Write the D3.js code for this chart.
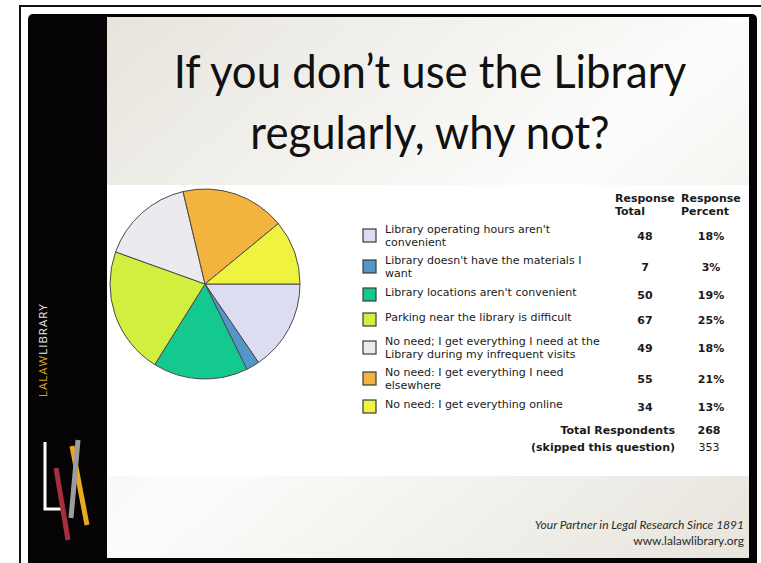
<!DOCTYPE html>
<html><head><meta charset="utf-8">
<script src="https://cdn.jsdelivr.net/npm/d3@7"></script>
<style>
html,body{margin:0;padding:0;background:#fff;}
svg{display:block;}
</style></head>
<body>
<svg id="c" width="761" height="563"></svg>
<script>
// ---- data ----
const titleLines = ["If you don\u2019t use the Library", "regularly, why not?"];
const categories = [
  "Library operating hours aren't\nconvenient",
  "Library doesn't have the materials I\nwant",
  "Library locations aren't convenient",
  "Parking near the library is difficult",
  "No need; I get everything I need at the\nLibrary during my infrequent visits",
  "No need: I get everything I need\nelsewhere",
  "No need: I get everything online"
];
const responseTotals = [48, 7, 50, 67, 49, 55, 34];
const responsePercents = ["18%", "3%", "19%", "25%", "18%", "21%", "13%"];
const sliceColors = ["#dcdcf2", "#5596c8", "#14c990", "#d2ee3e", "#ebebef", "#f3b33f", "#eff23f"];
const headerCols = [["Response", "Total"], ["Response", "Percent"]];
const summaryLabels = ["Total Respondents", "(skipped this question)"];
const summaryValues = [268, 353];
const brandParts = ["LALAW", "LIBRARY"];
const footerLines = ["Your Partner in Legal Research Since 1891", "www.lalawlibrary.org"];

// ---- drawing ----
const svg = d3.select("#c");
const defs = svg.append("defs");
const g1 = defs.append("linearGradient").attr("id", "bg")
  .attr("x1", "0").attr("y1", "0").attr("x2", "1").attr("y2", "1");
g1.append("stop").attr("offset", "0").attr("stop-color", "#e7e4dc");
g1.append("stop").attr("offset", "0.5").attr("stop-color", "#fcfcfb");
g1.append("stop").attr("offset", "1").attr("stop-color", "#e7e4dc");

// outer thin frame lines
svg.append("path").attr("d", "M20,563 L20,6 L761,6").attr("fill", "none")
  .attr("stroke", "#111").attr("stroke-width", 2);
// black slide
svg.append("rect").attr("x", 28).attr("y", 14).attr("width", 729).attr("height", 560)
  .attr("rx", 5).attr("fill", "#050303");
// content area
svg.append("rect").attr("x", 107).attr("y", 17).attr("width", 642).attr("height", 541)
  .attr("fill", "url(#bg)");
// white chart area
svg.append("rect").attr("x", 107).attr("y", 185).attr("width", 642).attr("height", 291)
  .attr("fill", "#ffffff");

// title
svg.append("g").attr("transform", "translate(430,0) scale(0.95,1)")
  .selectAll("text").data(titleLines).join("text")
  .attr("x", 0).attr("y", (d, i) => 88 + i * 61)
  .attr("text-anchor", "middle")
  .attr("font-family", "Lato, 'Open Sans', sans-serif")
  .attr("font-size", 46).attr("fill", "#111")
  .text(d => d);

// pie
const cx = 205, cy = 284, R = 95;
const pie = d3.pie().sort(null).value(d => d)
  .startAngle(Math.PI / 2).endAngle(Math.PI / 2 + 2 * Math.PI);
const arc = d3.arc().innerRadius(0).outerRadius(R);
svg.append("g").attr("transform", `translate(${cx},${cy})`)
  .selectAll("path").data(pie(responseTotals)).join("path")
  .attr("d", arc)
  .attr("fill", (d, i) => sliceColors[i])
  .attr("stroke", "#4a4a4a").attr("stroke-width", 1);

// table
const font = "'DejaVu Sans', Verdana, sans-serif";
const tbl = svg.append("g").attr("font-family", font).attr("font-size", 11).attr("fill", "#1a1a1a");
const colTotalX = 645, colPctX = 711, labelX = 385, boxX = 363;
// header
headerCols.forEach((lines, c) => {
  lines.forEach((t, i) => {
    tbl.append("text").attr("x", c === 0 ? 615 : 681).attr("y", 202 + i * 13)
      .attr("font-weight", "bold").text(t);
  });
});
// row layout
const nLines = categories.map(s => s.split("\n").length);
const rowY = [236];
for (let i = 1; i < categories.length; i++) {
  rowY.push(rowY[i - 1] + 19 + 3 * (nLines[i - 1] + nLines[i]));
}
const rows = tbl.selectAll("g.row").data(categories).join("g").attr("class", "row");
rows.append("rect")
  .attr("x", boxX).attr("y", (d, i) => rowY[i] - 7)
  .attr("width", 13).attr("height", 13)
  .attr("fill", (d, i) => sliceColors[i])
  .attr("stroke", "#3a3a3a").attr("stroke-width", 1.2);
rows.each(function (d, i) {
  const lines = d.split("\n");
  const top = lines.length === 1 ? rowY[i] - 3 : rowY[i] - 7;
  lines.forEach((t, k) => {
    d3.select(this).append("text").attr("x", labelX).attr("y", top + k * 13 + 4).text(t);
  });
});
rows.append("text").attr("x", colTotalX).attr("y", (d, i) => rowY[i] + 4)
  .attr("text-anchor", "middle").attr("font-weight", "bold").text((d, i) => responseTotals[i]);
rows.append("text").attr("x", colPctX).attr("y", (d, i) => rowY[i] + 4)
  .attr("text-anchor", "middle").attr("font-weight", "bold").text((d, i) => responsePercents[i]);
// summary
summaryLabels.forEach((t, i) => {
  const y = 434 + i * 17;
  tbl.append("text").attr("x", 675).attr("y", y).attr("text-anchor", "end")
    .attr("font-weight", "bold").text(t);
  tbl.append("text").attr("x", colPctX - 2).attr("y", y).attr("text-anchor", "middle")
    .attr("font-weight", i === 0 ? "bold" : "normal").text(summaryValues[i]);
});

// sidebar brand text
const brand = svg.append("text").attr("transform", "translate(47,397) rotate(-90)")
  .attr("font-family", "'Open Sans', sans-serif").attr("font-size", 11.5)
  .attr("letter-spacing", 1);
brand.append("tspan").attr("fill", "#d9a619").text(brandParts[0]);
brand.append("tspan").attr("fill", "#e8e8e8").text(brandParts[1]);

// logo
const logo = svg.append("g").attr("fill", "none").attr("stroke-linecap", "butt");
logo.append("path").attr("d", "M45,442 L45,509 L62,509").attr("stroke", "#ffffff").attr("stroke-width", 3);
logo.append("line").attr("x1", 72).attr("y1", 446).attr("x2", 87).attr("y2", 525)
  .attr("stroke", "#e9a91c").attr("stroke-width", 5);
logo.append("line").attr("x1", 78).attr("y1", 440).attr("x2", 71).attr("y2", 518)
  .attr("stroke", "#9c9c9c").attr("stroke-width", 5);
logo.append("line").attr("x1", 56).attr("y1", 468).attr("x2", 68).attr("y2", 540)
  .attr("stroke", "#a3303c").attr("stroke-width", 5);

// footer
svg.append("g").selectAll("text").data(footerLines).join("text")
  .attr("x", 744).attr("y", (d, i) => 529 + i * 16)
  .attr("text-anchor", "end")
  .attr("font-family", "Lato, sans-serif").attr("font-size", 12)
  .attr("font-style", (d, i) => i === 0 ? "italic" : "normal")
  .attr("fill", "#2a2a2a")
  .text(d => d);
</script>
</body></html>
